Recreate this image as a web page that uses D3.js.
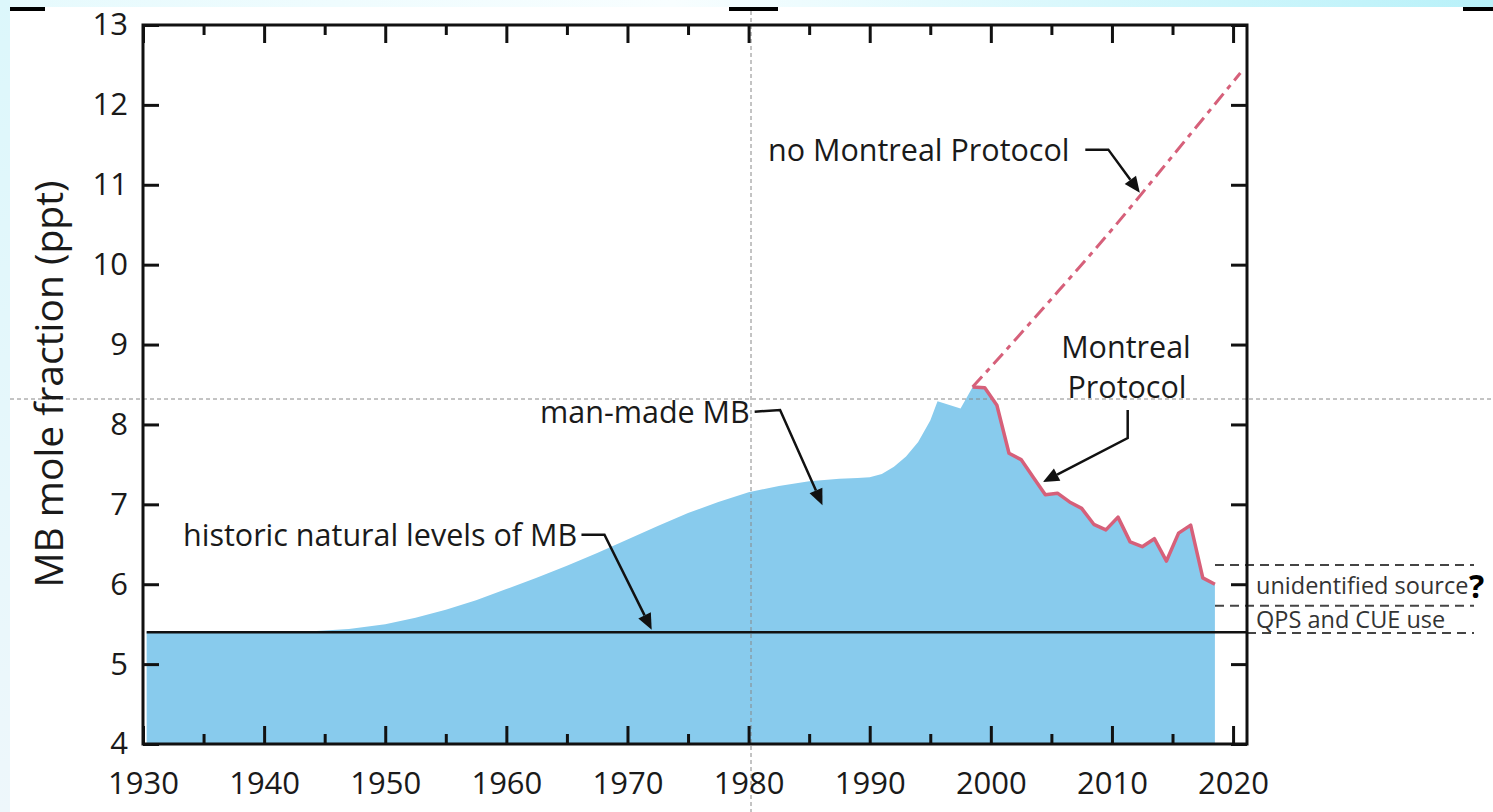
<!DOCTYPE html>
<html><head><meta charset="utf-8">
<script src="https://cdn.jsdelivr.net/npm/d3@7"></script>
<style>body{margin:0;background:#fff}svg{display:block}text{font-family:"Open Sans",sans-serif;fill:#1a1a1a}</style>
</head><body>
<script>
// ---- data ----
const xMajorTicks = [1930,1940,1950,1960,1970,1980,1990,2000,2010,2020];
const xMinorTicks = [1935,1945,1955,1965,1975,1985,1995,2005,2015];
const yTicks = [4,5,6,7,8,9,10,11,12,13];
const naturalLevel = 5.4;
const mbYears = [1930.3,1940,1944,1947,1950,1952.5,1955,1957.5,1960,1962.5,1965,1967.5,1970,1972.5,1975,1977.5,1980,1982.5,1985,1987.5,1989,1990,1991,1992,1993,1994,1995,1995.6,1997.5,
  1998.5,1999.5,2000.5,2001.5,2002.5,2003.5,2004.5,2005.5,2006.5,2007.5,2008.5,2009.5,2010.5,2011.5,2012.5,2013.5,2014.5,2015.5,2016.5,2017.5,2018.5];
const mbValues = [5.40,5.40,5.41,5.44,5.50,5.58,5.68,5.80,5.94,6.08,6.23,6.39,6.56,6.73,6.89,7.03,7.15,7.23,7.29,7.32,7.33,7.34,7.38,7.47,7.60,7.78,8.05,8.29,8.20,
  8.47,8.46,8.24,7.64,7.56,7.34,7.12,7.14,7.03,6.95,6.75,6.68,6.84,6.53,6.47,6.57,6.29,6.64,6.74,6.08,6.00];
const mpStartYear = 1998.5;
const noMpYears = [1998.5,2000,2005,2010,2015,2020.6];
const noMpValues = [8.47,8.72,9.57,10.44,11.36,12.40];
const rangeLevels = [6.24,5.73,5.39];
const rangeLabels = ["unidentified source","QPS and CUE use"];

// ---- layout ----
const W=1493,H=812;
const L=143,R=1247,T=25,B=744;
const svg=d3.select("body").append("svg").attr("width",W).attr("height",H);
const defs=svg.append("defs");
const g1=defs.append("linearGradient").attr("id","topg");
g1.append("stop").attr("offset","0").attr("stop-color","#e6fafd");
g1.append("stop").attr("offset","0.45").attr("stop-color","#f8feff");
g1.append("stop").attr("offset","1").attr("stop-color","#b8f1f9");
const g2=defs.append("linearGradient").attr("id","leftg").attr("x1",0).attr("y1",0).attr("x2",0).attr("y2",1);
g2.append("stop").attr("offset","0").attr("stop-color","#dcf7fb");
g2.append("stop").attr("offset","1").attr("stop-color","#eef7fb");
svg.append("rect").attr("x",0).attr("y",0).attr("width",W).attr("height",7).attr("fill","url(#topg)");
svg.append("rect").attr("x",0).attr("y",0).attr("width",10).attr("height",H).attr("fill","url(#leftg)");
[[10,45],[729,778],[1463,1493]].forEach(b=>svg.append("rect").attr("x",b[0]).attr("y",7).attr("width",b[1]-b[0]).attr("height",4).attr("fill","#000"));

const x=d3.scaleLinear().domain([1930,2021.15]).range([L,R]);
const y=d3.scaleLinear().domain([4,13]).range([B,T]);
const mb=mbYears.map((d,i)=>({x:d,y:mbValues[i]}));

// area
svg.append("path").datum(mb).attr("fill","#88cbed")
  .attr("d",d3.area().x(d=>x(d.x)).y0(y(4)).y1(d=>y(d.y)));

// guide lines
svg.append("line").attr("x1",751).attr("x2",751).attr("y1",11).attr("y2",H).attr("stroke","#888").attr("stroke-width",1).attr("stroke-dasharray","4,3");
svg.append("line").attr("x1",10).attr("x2",W).attr("y1",399).attr("y2",399).attr("stroke","#888").attr("stroke-width",1).attr("stroke-dasharray","4,3");

// natural level
svg.append("line").attr("x1",x(1930.3)).attr("x2",R).attr("y1",y(naturalLevel)).attr("y2",y(naturalLevel)).attr("stroke","#111").attr("stroke-width",2.5);
// range dashed lines
rangeLevels.forEach((v,i)=>{
  svg.append("line").attr("x1",i<2?1215:R).attr("x2",1474).attr("y1",y(v)).attr("y2",y(v))
   .attr("stroke","#444").attr("stroke-width",2).attr("stroke-dasharray","9,6");
});
svg.append("text").attr("x",1256).attr("y",(y(rangeLevels[0])+y(rangeLevels[1]))/2).attr("dy","0.35em").attr("font-size",23.5).style("fill","#333").text(rangeLabels[0]);
svg.append("text").attr("x",1256).attr("y",(y(rangeLevels[1])+y(rangeLevels[2]))/2).attr("dy","0.35em").attr("font-size",23.5).style("fill","#333").text(rangeLabels[1]);
svg.append("text").attr("x",1469).attr("y",(y(rangeLevels[0])+y(rangeLevels[1]))/2).attr("dy","0.38em").attr("font-size",32).attr("font-weight","bold").style("fill","#000").text("?");

// montreal line
const line=d3.line().x(d=>x(d.x)).y(d=>y(d.y));
svg.append("path").datum(mb.filter(d=>d.x>=mpStartYear)).attr("d",line).attr("fill","none").attr("stroke","#d6607a").attr("stroke-width",3.5).attr("stroke-linejoin","round");
svg.append("path").datum(noMpYears.map((d,i)=>({x:d,y:noMpValues[i]}))).attr("d",d3.line().x(d=>x(d.x)).y(d=>y(d.y)).curve(d3.curveMonotoneX))
  .attr("fill","none").attr("stroke","#d6607a").attr("stroke-width",3).attr("stroke-dasharray","14,6,5,6");

// axes frame
const ax=svg.append("g");
ax.append("rect").attr("x",L).attr("y",T).attr("width",R-L).attr("height",B-T).attr("fill","none").attr("stroke","#111").attr("stroke-width",3);
const bottom=d3.axisBottom(x).tickValues(xMajorTicks).tickSize(-18).tickPadding(28).tickFormat(d3.format("d"));
ax.append("g").attr("transform",`translate(0,${B})`).call(bottom);
ax.append("g").attr("transform",`translate(0,${B})`).call(d3.axisBottom(x).tickValues(xMinorTicks).tickSize(-10).tickFormat(""));
ax.append("g").attr("transform",`translate(0,${T})`).call(d3.axisTop(x).tickValues(xMajorTicks).tickSize(-18).tickFormat(""));
ax.append("g").attr("transform",`translate(0,${T})`).call(d3.axisTop(x).tickValues(xMinorTicks).tickSize(-10).tickFormat(""));
ax.append("g").attr("transform",`translate(${L},0)`).call(d3.axisLeft(y).tickValues(yTicks).tickSize(-16).tickPadding(15).tickFormat(d3.format("d")));
ax.append("g").attr("transform",`translate(${R},0)`).call(d3.axisRight(y).tickValues(yTicks).tickSize(-16).tickFormat(""));
ax.selectAll(".domain").remove();
ax.selectAll(".tick line").attr("stroke","#111").attr("stroke-width",3);
ax.selectAll(".tick text").attr("font-size",31).style("font-family","'Open Sans',sans-serif").style("fill","#1a1a1a");

// y title
svg.append("text").attr("transform","translate(49,384) rotate(-90)").attr("text-anchor","middle").attr("dy","0.35em").attr("font-size",39).text("MB mole fraction (ppt)");

// annotations
function arrow(pts){
  const p=pts.map(d=>[x(d[0]),y(d[1])]);
  const n=p.length, a=p[n-2], b=p[n-1];
  const ang=Math.atan2(b[1]-a[1],b[0]-a[0]);
  const hl=16,hw=7;
  const base=[b[0]-hl*Math.cos(ang),b[1]-hl*Math.sin(ang)];
  svg.append("path").attr("d",d3.line()(p.slice(0,n-1).concat([base]))).attr("fill","none").attr("stroke","#111").attr("stroke-width",2.5);
  const px=-Math.sin(ang),py=Math.cos(ang);
  svg.append("path").attr("d",`M${b[0]},${b[1]}L${base[0]+hw*px},${base[1]+hw*py}L${base[0]-hw*px},${base[1]-hw*py}Z`).attr("fill","#111");
}
function label(t,xx,yy,anchor){svg.append("text").attr("x",xx).attr("y",yy).attr("dy","0.35em").attr("text-anchor",anchor||"start").attr("font-size",30.5).text(t);}
label("no Montreal Protocol",768,150);
arrow([[2007.8,11.44],[2009.7,11.44],[2012.3,10.9]]);
label("Montreal",1126,347,"middle");
label("Protocol",1127,387,"middle");
arrow([[2011.3,8.18],[2011.3,7.83],[2004.3,7.28]]);
label("man-made MB",540,412);
arrow([[1980.5,8.16],[1982.6,8.18],[1986.1,6.99]]);
label("historic natural levels of MB",183,535);
arrow([[1966.2,6.62],[1968.1,6.62],[1972.0,5.43]]);
</script>
</body></html>
